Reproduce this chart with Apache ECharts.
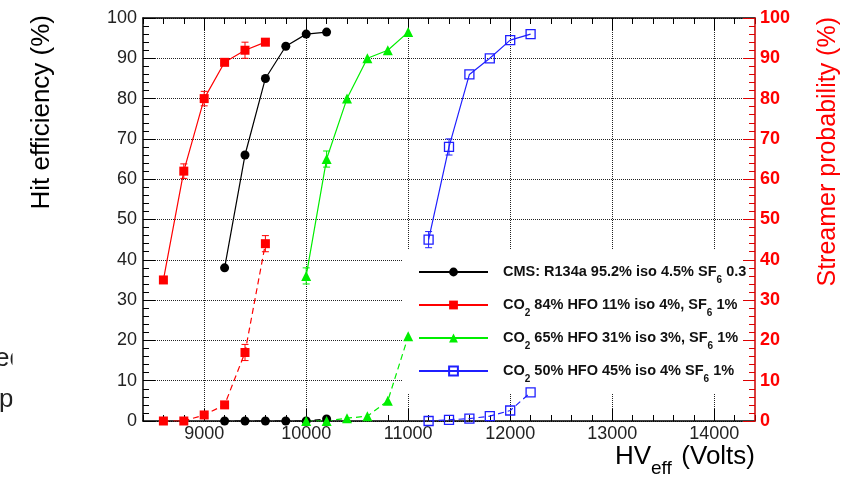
<!DOCTYPE html>
<html><head><meta charset="utf-8">
<script src="https://cdn.jsdelivr.net/npm/echarts@6/dist/echarts.min.js"></script>
<style>html,body{margin:0;padding:0;background:#fff}#c{width:860px;height:478px}</style>
</head><body><div id="c"></div>
<script>
// ---- data ----
const cmsHV    = [9200, 9400, 9600, 9800, 10000, 10200];
const cmsEff   = [38, 66, 85, 93, 96, 96.5];
const cmsStr   = [0, 0, 0, 0, 0, 0.5];

const hfo11HV     = [8600, 8800, 9000, 9200, 9400, 9600];
const hfo11Eff    = [35, 62, 80, 89, 92, 94];
const hfo11EffErr = [0, 1.8, 1.8, 0, 2, 0];
const hfo11Str    = [0, 0, 1.5, 4, 17, 44];
const hfo11StrErr = [0, 0, 0.8, 0.8, 2, 2];

const hfo31HV     = [10000, 10200, 10400, 10600, 10800, 11000];
const hfo31Eff    = [36, 65, 80, 90, 92, 96.5];
const hfo31EffErr = [2, 2, 0, 0, 0, 0];
const hfo31Str    = [0, 0, 0.7, 1.2, 5, 21];

const hfo45HV     = [11200, 11400, 11600, 11800, 12000, 12200];
const hfo45Eff    = [45, 68, 86, 90, 94.5, 96];
const hfo45EffErr = [2, 2, 0, 0, 0, 0];
const hfo45Str    = [0, 0.3, 0.6, 1.2, 2.6, 7.1];

const legendNames = [
  'CMS: R134a 95.2% iso 4.5% SF6 0.3',
  'CO2 84% HFO 11% iso 4%, SF6 1%',
  'CO2 65% HFO 31% iso 3%, SF6 1%',
  'CO2 50% HFO 45% iso 4% SF6 1%'
];
const xMajorTicks = [9000, 10000, 11000, 12000, 13000, 14000];

// ---- styling ----
const FF = '"Liberation Sans", Arial, Helvetica, sans-serif';
const BLACK = '#000000', RED = '#ff0000', GREEN = '#00ee00', BLUE = '#1f1fff';

function pairs(xs, ys) { return xs.map((x, i) => [x, ys[i]]); }
function errRows(xs, ys, es) {
  const out = [];
  xs.forEach((x, i) => { if (es[i] > 0) out.push([x, ys[i], es[i]]); });
  return out;
}
function lineSeries(name, xs, ys, color, symbol, size, dashed, yIdx, hollow) {
  return {
    type: 'line', name: name, xAxisIndex: 0, yAxisIndex: yIdx,
    data: pairs(xs, ys), symbol: symbol, symbolSize: size, showSymbol: true,
    itemStyle: hollow ? { color: 'rgba(255,255,255,0)', borderColor: color, borderWidth: 1.3 }
                      : { color: color },
    lineStyle: { color: color, width: 1.2, type: dashed ? [6, 4] : 'solid' },
    emphasis: { disabled: true }, z: 3, animation: false
  };
}
function errSeries(rows, color, yIdx) {
  return {
    type: 'custom', xAxisIndex: 0, yAxisIndex: yIdx, data: rows, z: 3, silent: true,
    encode: { x: 0, y: 1 }, animation: false,
    renderItem: function (params, api) {
      const x = api.value(0), y = api.value(1), e = api.value(2);
      const t = api.coord([x, y + e]), b = api.coord([x, y - e]);
      const hw = 3.5, st = { stroke: color, lineWidth: 1 };
      return { type: 'group', children: [
        { type: 'line', shape: { x1: t[0], y1: t[1], x2: b[0], y2: b[1] }, style: st },
        { type: 'line', shape: { x1: t[0] - hw, y1: t[1], x2: t[0] + hw, y2: t[1] }, style: st },
        { type: 'line', shape: { x1: b[0] - hw, y1: b[1], x2: b[0] + hw, y2: b[1] }, style: st }
      ]};
    }
  };
}
function toRich(s) {
  return s.split(/(CO2|SF6)/).filter(p => p.length).map(p =>
    p === 'CO2' ? '{b|CO}{s|2}' : p === 'SF6' ? '{b|SF}{s|6}' : '{b|' + p + '}').join('');
}

const xCommon = { type: 'value', min: 8400, max: 14400, gridIndex: 0 };
const option = {
  animation: false,
  backgroundColor: '#ffffff',
  grid: { left: 143, right: 105, top: 18, bottom: 57, containLabel: false },
  xAxis: [
    Object.assign({}, xCommon, { position: 'bottom', interval: 200,
      axisLine: { show: true, lineStyle: { color: '#000', width: 1.5 } },
      axisTick: { show: true, inside: true, length: 6, lineStyle: { color: '#000' } },
      axisLabel: { show: false }, splitLine: { show: false } }),
    Object.assign({}, xCommon, { position: 'bottom',
      axisLine: { show: false },
      axisTick: { show: true, inside: true, length: 12, customValues: xMajorTicks, lineStyle: { color: '#000' } },
      axisLabel: { show: true, customValues: xMajorTicks, fontFamily: FF, fontSize: 18, color: '#222', margin: 4,
        formatter: function (v) { return String(v); } },
      splitLine: { show: true, lineStyle: { color: '#222', type: 'dotted', width: 1 } } }),
    Object.assign({}, xCommon, { position: 'top', interval: 200,
      axisLine: { show: true, lineStyle: { color: '#000', width: 1.5 } },
      axisTick: { show: true, inside: true, length: 6, lineStyle: { color: '#000' } },
      axisLabel: { show: false }, splitLine: { show: false } }),
    Object.assign({}, xCommon, { position: 'top',
      axisLine: { show: false },
      axisTick: { show: true, inside: true, length: 12, customValues: xMajorTicks, lineStyle: { color: '#000' } },
      axisLabel: { show: false }, splitLine: { show: false } })
  ],
  yAxis: [
    { type: 'value', position: 'left', min: 0, max: 100, interval: 10,
      axisLine: { show: true, lineStyle: { color: '#000', width: 1.5 } },
      axisTick: { show: true, inside: true, length: 12, lineStyle: { color: '#000' } },
      minorTick: { show: true, splitNumber: 5, length: 6, lineStyle: { color: '#000' } },
      axisLabel: { fontFamily: FF, fontSize: 18, color: '#222', margin: 6 },
      splitLine: { show: true, lineStyle: { color: '#222', type: 'dotted', width: 1 } } },
    { type: 'value', position: 'right', min: 0, max: 100, interval: 10, z: 6,
      axisLine: { show: true, lineStyle: { color: '#cc0000', width: 1.5 } },
      axisTick: { show: true, inside: true, length: 12, lineStyle: { color: '#dd0000' } },
      minorTick: { show: true, splitNumber: 5, length: 6, lineStyle: { color: '#dd0000' } },
      axisLabel: { fontFamily: FF, fontSize: 18, fontWeight: 'bold', color: '#ff0000', margin: 5 },
      splitLine: { show: false } }
  ],
  legend: {
    data: legendNames, orient: 'vertical', left: 403, top: 250,
    padding: [14, 10, 10, 15], itemGap: 12, itemWidth: 69, itemHeight: 11,
    backgroundColor: '#ffffff', z: 1, align: 'left', selectedMode: false,
    formatter: toRich,
    textStyle: { padding: [0, 0, 0, 10], color: '#111',
      rich: {
        b: { fontFamily: FF, fontSize: 14.5, fontWeight: 'bold', color: '#111', lineHeight: 16, verticalAlign: 'top' },
        s: { fontFamily: FF, fontSize: 10, fontWeight: 'bold', color: '#111', lineHeight: 10, verticalAlign: 'top', padding: [11, 0, 0, 0] }
      } }
  },
  series: [
    lineSeries(legendNames[0], cmsHV, cmsEff, BLACK, 'circle', 9, false, 0),
    lineSeries(legendNames[1], hfo11HV, hfo11Eff, RED, 'rect', 9, false, 0),
    lineSeries(legendNames[2], hfo31HV, hfo31Eff, GREEN, 'triangle', 10, false, 0),
    lineSeries(legendNames[3], hfo45HV, hfo45Eff, BLUE, 'rect', 9, false, 0, true),
    lineSeries('CMS streamer', cmsHV, cmsStr, BLACK, 'circle', 9, true, 1),
    lineSeries('HFO 11% streamer', hfo11HV, hfo11Str, RED, 'rect', 9, true, 1),
    lineSeries('HFO 31% streamer', hfo31HV, hfo31Str, GREEN, 'triangle', 10, true, 1),
    lineSeries('HFO 45% streamer', hfo45HV, hfo45Str, BLUE, 'rect', 9, true, 1, true),
    errSeries(errRows(hfo11HV, hfo11Eff, hfo11EffErr), RED, 0),
    errSeries(errRows(hfo11HV, hfo11Str, hfo11StrErr), RED, 1),
    errSeries(errRows(hfo31HV, hfo31Eff, hfo31EffErr), GREEN, 0),
    errSeries(errRows(hfo45HV, hfo45Eff, hfo45EffErr), BLUE, 0)
  ],
  graphic: [
    { type: 'text', x: 42, y: 15, rotation: Math.PI / 2,
      style: { text: 'Hit efficiency (%)', font: '26px ' + FF, fill: '#000', align: 'right', verticalAlign: 'middle' } },
    { type: 'text', x: 828, y: 17, rotation: Math.PI / 2,
      style: { text: 'Streamer probability (%)', font: '25px ' + FF, fill: '#ff0000', align: 'right', verticalAlign: 'middle' } },
    { type: 'text', x: 615, y: 456.5,
      style: { text: 'HV', font: '26px ' + FF, fill: '#000', align: 'left', verticalAlign: 'middle' } },
    { type: 'text', x: 651, y: 468.5,
      style: { text: 'eff', font: '19px ' + FF, fill: '#000', align: 'left', verticalAlign: 'middle' } },
    { type: 'text', x: 755, y: 456.5,
      style: { text: '(Volts)', font: '26px ' + FF, fill: '#000', align: 'right', verticalAlign: 'middle' } },
    { type: 'text', x: -5, y: 358.5,
      style: { text: 'ed', font: '26px ' + FF, fill: '#222', align: 'left', verticalAlign: 'middle' } },
    { type: 'text', x: -1, y: 400,
      style: { text: 'p', font: '26px ' + FF, fill: '#222', align: 'left', verticalAlign: 'middle' } },
    { type: 'rect', shape: { x: 12.5, y: 335, width: 40, height: 90 }, style: { fill: '#fff' } }
  ]
};
const chart = echarts.init(document.getElementById('c'), null, { renderer: 'canvas' });
chart.setOption(option);
</script>
</body></html>
